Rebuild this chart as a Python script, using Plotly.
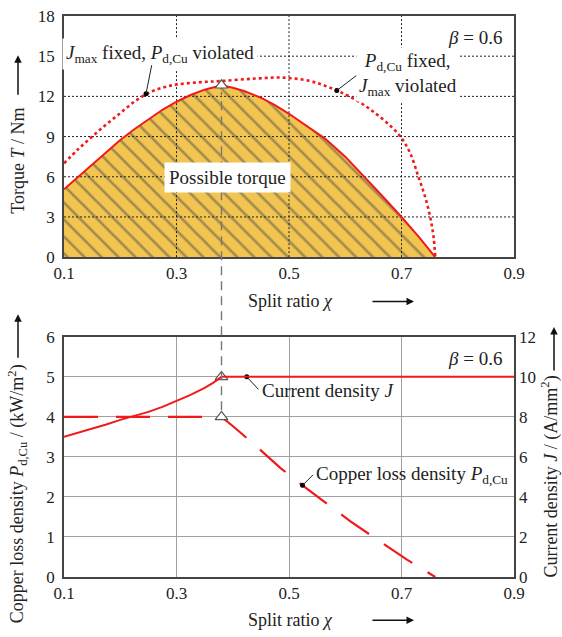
import plotly.graph_objects as go

# ---------------- data ----------------
# top panel: torque vs split ratio
chi_possible = [0.1, 0.125, 0.15, 0.175, 0.2, 0.225, 0.25, 0.275, 0.3, 0.325, 0.35, 0.38,
                0.4, 0.42, 0.45, 0.475, 0.5, 0.53, 0.564, 0.6, 0.632, 0.665, 0.7, 0.73, 0.76]
torque_possible = [5.07, 6.0, 6.9, 7.85, 8.75, 9.55, 10.3, 11.0, 11.6, 12.1, 12.5, 12.83,
                   12.65, 12.4, 11.9, 11.35, 10.7, 9.85, 8.85, 7.5, 6.1, 4.6, 3.0, 1.55, 0.0]
chi_jmax = [0.1, 0.125, 0.15, 0.175, 0.2, 0.225, 0.25, 0.275, 0.3, 0.34, 0.38, 0.44, 0.49,
            0.537, 0.56, 0.585, 0.607, 0.63, 0.65, 0.675, 0.698, 0.715, 0.73, 0.742, 0.751, 0.757, 0.76]
torque_jmax = [7.0, 8.05, 9.0, 9.9, 10.75, 11.6, 12.25, 12.65, 12.88, 13.05, 13.15, 13.33, 13.4,
               13.15, 12.85, 12.44, 12.0, 11.45, 10.85, 10.0, 9.0, 7.8, 6.0, 4.5, 3.0, 1.5, 0.0]
opt_chi = [0.38]
opt_torque = [12.83]

# bottom panel
chi_j = [0.1, 0.125, 0.15, 0.175, 0.2, 0.225, 0.25, 0.275, 0.3, 0.325, 0.35, 0.365, 0.38, 0.9]
current_density = [7.0, 7.2, 7.4, 7.62, 7.85, 8.05, 8.25, 8.5, 8.8, 9.1, 9.45, 9.7, 10.0, 10.0]
chi_pcu = [0.1, 0.38, 0.401, 0.44, 0.486, 0.524, 0.608, 0.68, 0.709, 0.76]
pcu = [4.0, 4.0, 3.76, 3.29, 2.71, 2.29, 1.40, 0.71, 0.44, 0.0]
opt_chi_b = [0.38, 0.38]
opt_pcu_b = [5.0, 4.0]

# tick values
x_ticks = [0.1, 0.3, 0.5, 0.7, 0.9]
t_ticks = [0, 3, 6, 9, 12, 15, 18]
p_ticks = [0, 1, 2, 3, 4, 5, 6]
j_ticks = [0, 2, 4, 6, 8, 10, 12]

# annotation anchor points (data)
dot_top_chi = [0.2458, 0.585]
dot_top_T = [12.2, 12.44]
dot_bot_chi = [0.425, 0.524]
dot_bot_P = [5.0, 2.29]

# ---------------- style ----------------
FONT = "Liberation Serif, Times New Roman, DejaVu Serif, serif"
RED = "#f01a1a"
GOLD = "#F2C450"
W, H = 562, 637
ML, MR, MT, MB = 64, 48, 7, 60
PW, PH = W - ML - MR, H - MT - MB
TOP_DOM = [(H - MB - 252) / PH, 1.0]
BOT_DOM = [0.0, (H - MB - 333) / PH]


def px(xp):
    return (xp - ML) / PW


def py(yp):
    return (H - MB - yp) / PH


fig = go.Figure()

# possible torque area (hatched)
fig.add_trace(go.Scatter(
    x=chi_possible, y=torque_possible, xaxis="x", yaxis="y",
    mode="lines", line=dict(width=0),
    fill="tozeroy", fillcolor=GOLD,
    fillpattern=dict(shape="\\", fgcolor="#4f4f4f", bgcolor=GOLD, size=12, solidity=0.22),
    hoverinfo="skip", showlegend=False))

# top dotted grid lines (drawn above the fill)
for xv in x_ticks[1:-1]:
    fig.add_trace(go.Scatter(x=[xv, xv], y=[t_ticks[0], t_ticks[-1]], xaxis="x", yaxis="y",
                             mode="lines", line=dict(color="#222", width=1, dash="2px,2px"),
                             hoverinfo="skip", showlegend=False))
for yv in t_ticks[1:-1]:
    fig.add_trace(go.Scatter(x=[x_ticks[0], x_ticks[-1]], y=[yv, yv], xaxis="x", yaxis="y",
                             mode="lines", line=dict(color="#222", width=1, dash="2px,2px"),
                             hoverinfo="skip", showlegend=False))

# curves top
fig.add_trace(go.Scatter(x=chi_jmax, y=torque_jmax, xaxis="x", yaxis="y", mode="lines",
                         line=dict(color=RED, width=2.6, dash="3px,3px", shape="spline", smoothing=1),
                         showlegend=False))
fig.add_trace(go.Scatter(x=chi_possible, y=torque_possible, xaxis="x", yaxis="y", mode="lines",
                         line=dict(color=RED, width=2),
                         showlegend=False))

# bottom curves
fig.add_trace(go.Scatter(x=chi_j, y=current_density, xaxis="x2", yaxis="y3", mode="lines",
                         line=dict(color=RED, width=2),
                         showlegend=False))
fig.add_trace(go.Scatter(x=chi_pcu, y=pcu, xaxis="x2", yaxis="y2", mode="lines",
                         line=dict(color=RED, width=2.2, dash="34px,18px"),
                         showlegend=False))

# optimum markers
tri = dict(symbol="triangle-up", size=11, color="white", line=dict(color="#555", width=1.2))
fig.add_trace(go.Scatter(x=opt_chi, y=opt_torque, xaxis="x", yaxis="y", mode="markers",
                         marker=tri, showlegend=False))
fig.add_trace(go.Scatter(x=opt_chi_b, y=opt_pcu_b, xaxis="x2", yaxis="y2", mode="markers",
                         marker=tri, showlegend=False))

# leader dots
fig.add_trace(go.Scatter(x=dot_top_chi, y=dot_top_T, xaxis="x", yaxis="y", mode="markers",
                         marker=dict(color="black", size=5), showlegend=False))
fig.add_trace(go.Scatter(x=dot_bot_chi, y=dot_bot_P, xaxis="x2", yaxis="y2", mode="markers",
                         marker=dict(color="black", size=5), showlegend=False))

# dashed vertical link between panels
y_top = TOP_DOM[0] + opt_torque[0] / t_ticks[-1] * (TOP_DOM[1] - TOP_DOM[0])
y_bot = BOT_DOM[0] + opt_pcu_b[1] / p_ticks[-1] * (BOT_DOM[1] - BOT_DOM[0])
fig.add_shape(type="line", xref="x", yref="paper", x0=opt_chi[0], x1=opt_chi[0],
              y0=y_bot + 0.012, y1=y_top - 0.012, line=dict(color="#777", width=1.4, dash="9px,6px"),
              layer="above")

axfont = dict(family=FONT, size=17, color="#222")
common_x = dict(range=[0.1, 0.9], tickvals=x_ticks, ticktext=[f"{v:.1f}" for v in x_ticks],
                showline=True, linecolor="#444", linewidth=1.5, mirror=True, ticks="",
                tickfont=axfont, zeroline=False, fixedrange=True)

fig.update_layout(
    width=W, height=H, margin=dict(l=ML, r=MR, t=MT, b=MB),
    paper_bgcolor="white", plot_bgcolor="white",
    font=dict(family=FONT, size=17, color="#222"),
    xaxis=dict(domain=[0, 1], anchor="y", showgrid=False, **common_x),
    yaxis=dict(domain=TOP_DOM, anchor="x", range=[0, 18], tickvals=t_ticks, showgrid=False,
               showline=True, linecolor="#444", linewidth=1.5, mirror=True, ticks="",
               tickfont=axfont, zeroline=False, ticklabelstandoff=4),
    xaxis2=dict(domain=[0, 1], anchor="y2", showgrid=True, gridcolor="#a0a0a0", gridwidth=1, **common_x),
    yaxis2=dict(domain=BOT_DOM, anchor="x2", range=[0, 6], tickvals=p_ticks, showgrid=True,
                gridcolor="#a0a0a0", gridwidth=1,
                showline=True, linecolor="#444", linewidth=1.5, mirror=True, ticks="",
                tickfont=axfont, zeroline=False, ticklabelstandoff=4),
    yaxis3=dict(overlaying="y2", anchor="x2", side="right", range=[0, 12], tickvals=j_ticks,
                showgrid=False, showline=False, ticks="", tickfont=axfont, zeroline=False,
                ticklabelstandoff=4),
)

ann = []
tf = dict(family=FONT, size=19, color="#222")
tt = dict(family=FONT, size=18, color="#222")
C = dict(xanchor="center", yanchor="middle")
# in-plot labels
ann.append(dict(xref="x", yref="y", x=0.2707, y=15.2,
                text="<i>J</i><sub>max</sub> fixed, <i>P</i><sub>d,Cu</sub> violated",
                showarrow=False, bgcolor="white", font=tf, borderpad=3, **C))
ann.append(dict(xref="x", yref="y", x=0.7116, y=13.67,
                text="<i>P</i><sub>d,Cu</sub> fixed,<br><i>J</i><sub>max</sub> violated",
                showarrow=False, bgcolor="white", font=tf, borderpad=2, **C))
ann.append(dict(xref="x", yref="y", x=0.83, y=16.4, text="<i>β</i> = 0.6",
                showarrow=False, font=tf, **C))
ann.append(dict(xref="x", yref="y", x=0.39, y=5.95, text="Possible torque",
                showarrow=False, bgcolor="white", font=tf, borderpad=4, **C))
ann.append(dict(xref="x2", yref="y2", x=0.83, y=5.46, text="<i>β</i> = 0.6",
                showarrow=False, font=tf, **C))
ann.append(dict(xref="x2", yref="y2", x=0.57, y=4.65, text="Current density <i>J</i>",
                showarrow=False, font=tf, **C))
ann.append(dict(xref="x2", yref="y2", x=0.718, y=2.56,
                text="Copper loss density <i>P</i><sub>d,Cu</sub>",
                showarrow=False, font=tf, **C))
# leader lines
ann.append(dict(xref="x", yref="y", x=dot_top_chi[0], y=dot_top_T[0], ax=6, ay=-30, text="",
                showarrow=True, arrowhead=0, arrowwidth=1, arrowcolor="#222"))
ann.append(dict(xref="x", yref="y", x=dot_top_chi[1], y=dot_top_T[1], ax=21, ay=-16, text="",
                showarrow=True, arrowhead=0, arrowwidth=1, arrowcolor="#222"))
ann.append(dict(xref="x2", yref="y2", x=dot_bot_chi[0], y=dot_bot_P[0], ax=13, ay=14, text="",
                showarrow=True, arrowhead=0, arrowwidth=1, arrowcolor="#222"))
ann.append(dict(xref="x2", yref="y2", x=dot_bot_chi[1], y=dot_bot_P[1], ax=12, ay=-12, text="",
                showarrow=True, arrowhead=0, arrowwidth=1, arrowcolor="#222"))
# axis titles
for yy in (297, 621):
    ann.append(dict(xref="paper", yref="paper", x=px(290), y=py(yy), text="Split ratio <i>χ</i>",
                    showarrow=False, font=tt, **C))
    ann.append(dict(xref="paper", yref="paper", x=px(414), y=py(yy), ax=-43, ay=0, text="",
                    showarrow=True, arrowhead=2, arrowsize=1, arrowwidth=1.5, arrowcolor="#111"))
ann.append(dict(xref="paper", yref="paper", x=px(18), y=py(154), text="Torque <i>T</i> / Nm",
                textangle=-90, showarrow=False, font=tt, **C))
ann.append(dict(xref="paper", yref="paper", x=px(18), y=py(47), ax=0, ay=41, text="",
                showarrow=True, arrowhead=2, arrowsize=1, arrowwidth=1.5, arrowcolor="#111"))
ann.append(dict(xref="paper", yref="paper", x=px(17), y=py(493),
                text="Copper loss density <i>P</i><sub>d,Cu</sub> / (kW/m<sup>2</sup>)",
                textangle=-90, showarrow=False, font=tt, **C))
ann.append(dict(xref="paper", yref="paper", x=px(18), y=py(310), ax=0, ay=45, text="",
                showarrow=True, arrowhead=2, arrowsize=1, arrowwidth=1.5, arrowcolor="#111"))
ann.append(dict(xref="paper", yref="paper", x=px(550), y=py(475),
                text="Current density <i>J</i> / (A/mm<sup>2</sup>)",
                textangle=-90, showarrow=False, font=tt, **C))
ann.append(dict(xref="paper", yref="paper", x=px(554), y=py(323), ax=0, ay=45, text="",
                showarrow=True, arrowhead=2, arrowsize=1, arrowwidth=1.5, arrowcolor="#111"))

fig.update_layout(annotations=ann)
fig.write_html("out.html")
